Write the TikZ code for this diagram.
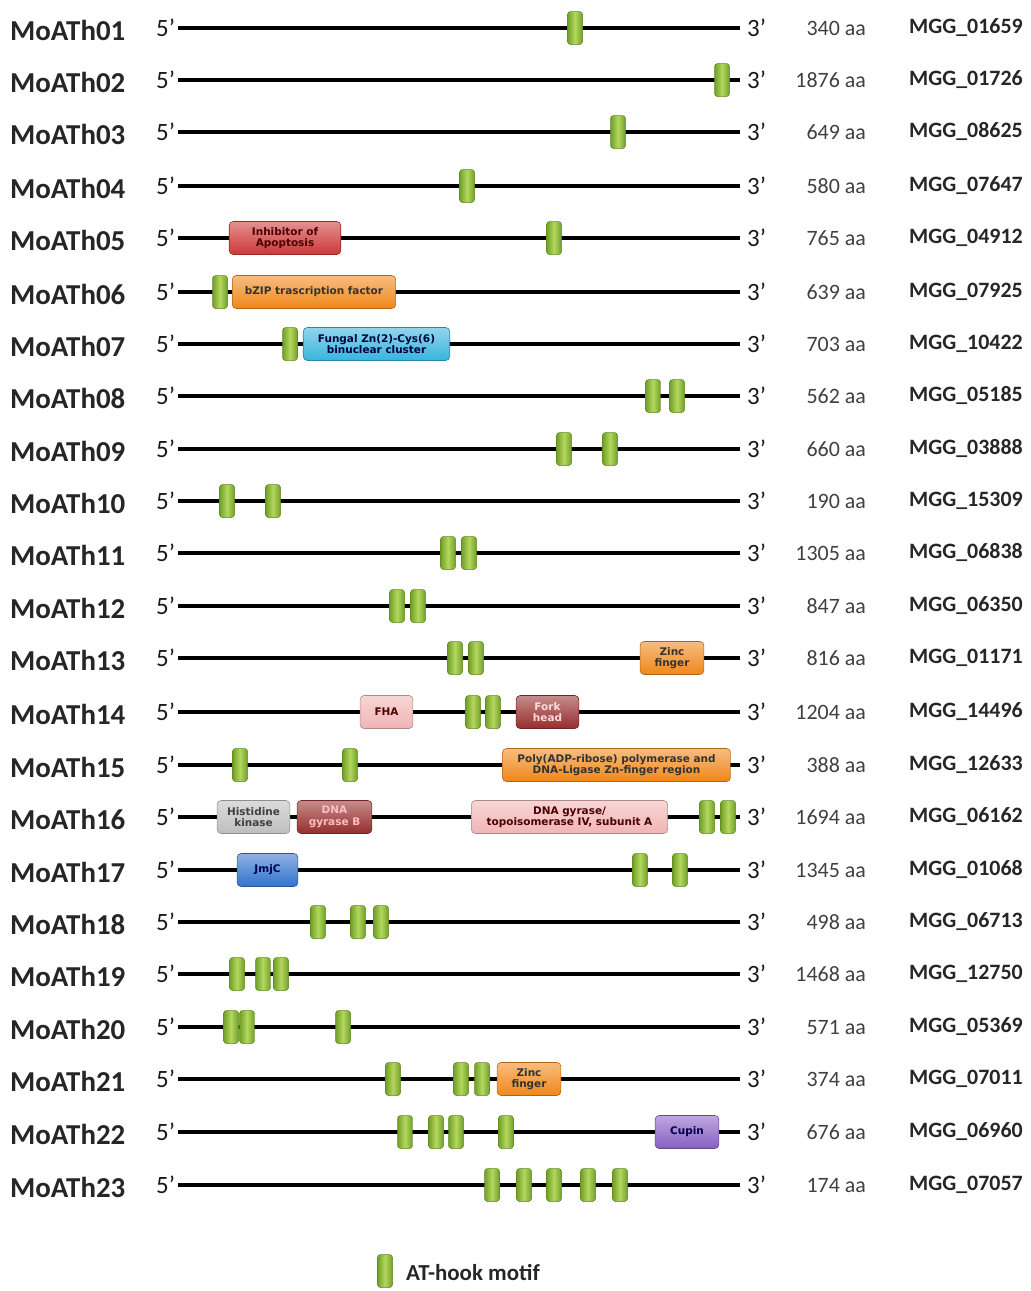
\documentclass[tikz,border=0pt]{standalone}
\usepackage{fontspec}
\setmainfont{Carlito}
\newfontfamily\domfont{DejaVu Sans}
\definecolor{ATd}{RGB}{112,160,40}
\definecolor{ATl}{RGB}{180,215,95}
\definecolor{cRed}{RGB}{205,55,55}
\definecolor{cOrange}{RGB}{240,135,25}
\definecolor{cCyan}{RGB}{55,180,220}
\definecolor{cPink}{RGB}{240,180,180}
\definecolor{cDark}{RGB}{150,45,45}
\definecolor{cGray}{RGB}{190,190,190}
\definecolor{cBlue}{RGB}{50,115,205}
\definecolor{cPurple}{RGB}{135,95,195}
\newcommand\motifs[3]{\foreach \x [count=\j] in {#3} {\node[athook] (m#1-\j) at (\x,#2) {};}}
\newcommand\domain[7]{\node[dom,top color=#5!55!white,bottom color=#5,draw=#5!75!black,text=#6,minimum width={#3-#2}] (#1) at ({(#2+#3)/2},#4) {#7};}
\begin{document}
\begin{tikzpicture}[x=1bp,y=-1bp,
 dna/.style={line width=4.5bp,black},
 lab/.style={anchor=base west,inner sep=0,font=\fontsize{29}{29}\selectfont\bfseries,text=black!85},
 five/.style={anchor=base west,inner sep=0,font=\fontsize{25}{25}\selectfont,text=black!90},
 aanum/.style={anchor=base east,inner sep=0,font=\fontsize{22}{22}\selectfont,text=black!75},
 mgg/.style={anchor=base west,inner sep=0,font=\fontsize{22}{22}\selectfont\bfseries,text=black!85},
 athook/.style={rectangle,rounded corners=3bp,minimum width=15bp,minimum height=33bp,inner sep=0,draw=ATd!85!black,line width=0.5bp,left color=ATd,right color=ATd,middle color=ATl},
 dom/.style={rectangle,rounded corners=4bp,minimum height=33bp,inner sep=0,line width=0.6bp,align=center,font=\domfont\fontsize{10.5}{11.5}\selectfont\bfseries},
]
\useasboundingbox (0,0) rectangle (1031,1291);
\foreach \i/\yy/\n/\mg in {01/28/340/01659, 02/80/1876/01726, 03/132/649/08625, 04/186/580/07647,
  05/238/765/04912, 06/292/639/07925, 07/344/703/10422, 08/396/562/05185, 09/449/660/03888,
  10/501/190/15309, 11/553/1305/06838, 12/606/847/06350, 13/658/816/01171, 14/712/1204/14496,
  15/765/388/12633, 16/817/1694/06162, 17/870/1345/01068, 18/922/498/06713, 19/974/1468/12750,
  20/1027/571/05369, 21/1079/374/07011, 22/1132/676/06960, 23/1185/174/07057}
{
  \node[lab] (lab\i) at (10,\yy+12) {MoATh\i};
  \node[five] (p\i) at (156,\yy+8) {5’};
  \coordinate (s\i) at (178,\yy);
  \coordinate (e\i) at (740,\yy);
  \draw[dna] (s\i) -- (e\i);
  \node[five] (q\i) at (747,\yy+8) {3’};
  \node[aanum] (aa\i) at (866,\yy+7) {\n{} aa};
  \node[mgg] (g\i) at (909,\yy+5) {MGG\_\mg};
}
% AT-hook motifs
\motifs{01}{28}{575}
\motifs{02}{80}{722}
\motifs{03}{132}{618}
\motifs{04}{186}{467}
\motifs{05}{238}{554}
\motifs{06}{292}{220}
\motifs{07}{344}{290}
\motifs{08}{396}{653,677}
\motifs{09}{449}{564,610}
\motifs{10}{501}{227,273}
\motifs{11}{553}{448,469}
\motifs{12}{606}{397,418}
\motifs{13}{658}{455,476}
\motifs{14}{712}{473,493}
\motifs{15}{765}{240,350}
\motifs{16}{817}{707,728}
\motifs{17}{870}{640,680}
\motifs{18}{922}{318,358,381}
\motifs{19}{974}{237,263,281}
\motifs{20}{1027}{231,247,343}
\motifs{21}{1079}{393,461,482}
\motifs{22}{1132}{405,436,456,506}
\motifs{23}{1185}{492,524,554,588,620}
% domains
\domain{d05}{229}{341}{238}{cRed}{black!70!red}{Inhibitor of\\Apoptosis}
\domain{d06}{232}{396}{292}{cOrange}{black!80}{bZIP trascription factor}
\domain{d07}{303}{450}{344}{cCyan}{black!75!blue}{Fungal Zn(2)-Cys(6)\\binuclear cluster}
\domain{d13}{640}{704}{658}{cOrange}{black!80}{Zinc\\finger}
\domain{d14a}{360}{413}{712}{cPink}{black!70!red}{FHA}
\domain{d14b}{516}{579}{712}{cDark}{red!15!white}{Fork\\head}
\domain{d15}{502}{731}{765}{cOrange}{black!80}{Poly(ADP-ribose) polymerase and\\DNA-Ligase Zn-finger region}
\domain{d16a}{217}{290}{817}{cGray}{black!75}{Histidine\\kinase}
\domain{d16b}{297}{372}{817}{cDark}{red!25!white}{DNA\\gyrase B}
\domain{d16c}{471}{668}{817}{cPink}{black!70!red}{DNA gyrase/\\topoisomerase IV, subunit A}
\domain{d17}{237}{298}{870}{cBlue}{black!70!blue}{JmjC}
\domain{d21}{497}{561}{1079}{cOrange}{black!80}{Zinc\\finger}
\domain{d22}{655}{719}{1132}{cPurple}{black!70!blue}{Cupin}
% legend
\node[athook] (legm) at (385,1271) {};
\node[anchor=west,inner sep=0,font=\fontsize{23}{23}\selectfont\bfseries,text=black!85] (legt) at (406,1273) {AT-hook motif};
\end{tikzpicture}
\end{document}
